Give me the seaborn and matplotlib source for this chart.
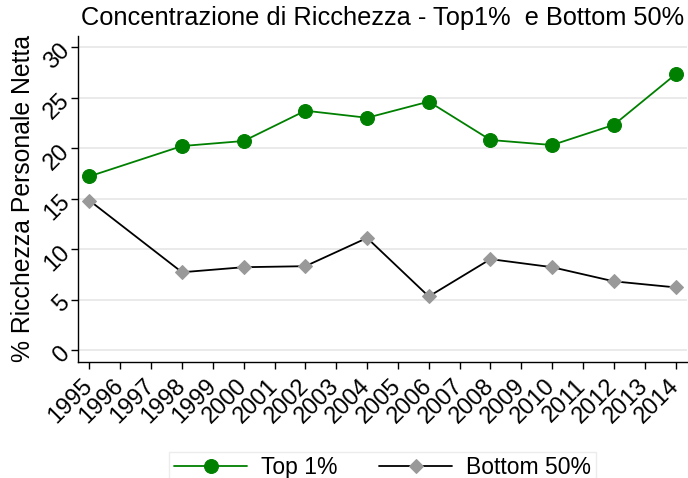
import numpy as np
import pandas as pd
import matplotlib
matplotlib.use("Agg")
import matplotlib.pyplot as plt
import seaborn as sns

years = [1995, 1998, 2000, 2002, 2004, 2006, 2008, 2010, 2012, 2014]
top1 = [17.2, 20.2, 20.7, 23.7, 23.0, 24.6, 20.8, 20.3, 22.3, 27.3]
bottom50 = [14.8, 7.7, 8.2, 8.3, 11.1, 5.3, 9.0, 8.2, 6.8, 6.2]
tick_years = list(range(1995, 2015))
y_ticks = [0, 5, 10, 15, 20, 25, 30]

sns.set_style("white")
plt.rcParams['font.family'] = ['Liberation Sans', 'DejaVu Sans']
plt.rcParams.update({"text.color": "black", "axes.labelcolor": "black",
                     "xtick.color": "black", "ytick.color": "black"})

df = pd.DataFrame({"anno": years, "top1": top1, "bottom50": bottom50})

fig, ax = plt.subplots(figsize=(6.88, 4.78), dpi=100)
fig.subplots_adjust(left=0.113, right=0.9985, bottom=0.2433, top=0.9247)

ax.grid(axis="y", color="#e8e8e8", linewidth=1.3)
ax.set_axisbelow(True)

sns.lineplot(data=df, x="anno", y="top1", ax=ax, color="#008000", lw=1.3,
             marker="o", markersize=10, markeredgecolor="#008000",
             markerfacecolor="#008000", label="Top 1%")
sns.lineplot(data=df, x="anno", y="bottom50", ax=ax, color="black", lw=1.3,
             marker="D", markersize=7, markeredgecolor="#999999",
             markerfacecolor="#999999", label="Bottom 50%")

ax.set_xlim(1994.62, 2014.37)
ax.set_ylim(-1.16, 31.1)
ax.set_xticks(tick_years)
ax.set_xticklabels([str(y) for y in tick_years], rotation=45, ha="right",
                   va="center", rotation_mode="anchor", fontsize=17)
ax.set_yticks(y_ticks)
ax.set_yticklabels([str(v) for v in y_ticks], rotation=45, fontsize=17,
                   va="center", ha="right", rotation_mode="anchor")
ax.tick_params(axis="both", direction="out", length=5, width=1, color="black",
               bottom=True, left=True)
ax.tick_params(axis="x", pad=10)
ax.tick_params(axis="y", pad=3)

for s in ["top", "right"]:
    ax.spines[s].set_visible(False)
for s in ["left", "bottom"]:
    ax.spines[s].set_color("black")
    ax.spines[s].set_linewidth(1)

ax.set_xlabel("")
ax.set_ylabel("% Ricchezza Personale Netta", fontsize=17.8, labelpad=4)
ax.set_title("Concentrazione di Ricchezza - Top1%  e Bottom 50%", fontsize=18.3, pad=8)

handles, labels = ax.get_legend_handles_labels()
ax.get_legend().remove()
leg = fig.legend(handles, labels, loc="upper center", bbox_to_anchor=(0.556, 0.079),
                 ncol=2, fontsize=16.5, frameon=True, fancybox=False,
                 edgecolor="#e8e8e8", handlelength=3.2, handletextpad=0.6,
                 columnspacing=1.8, borderpad=0.2)

fig.savefig("out.png", dpi=100)
